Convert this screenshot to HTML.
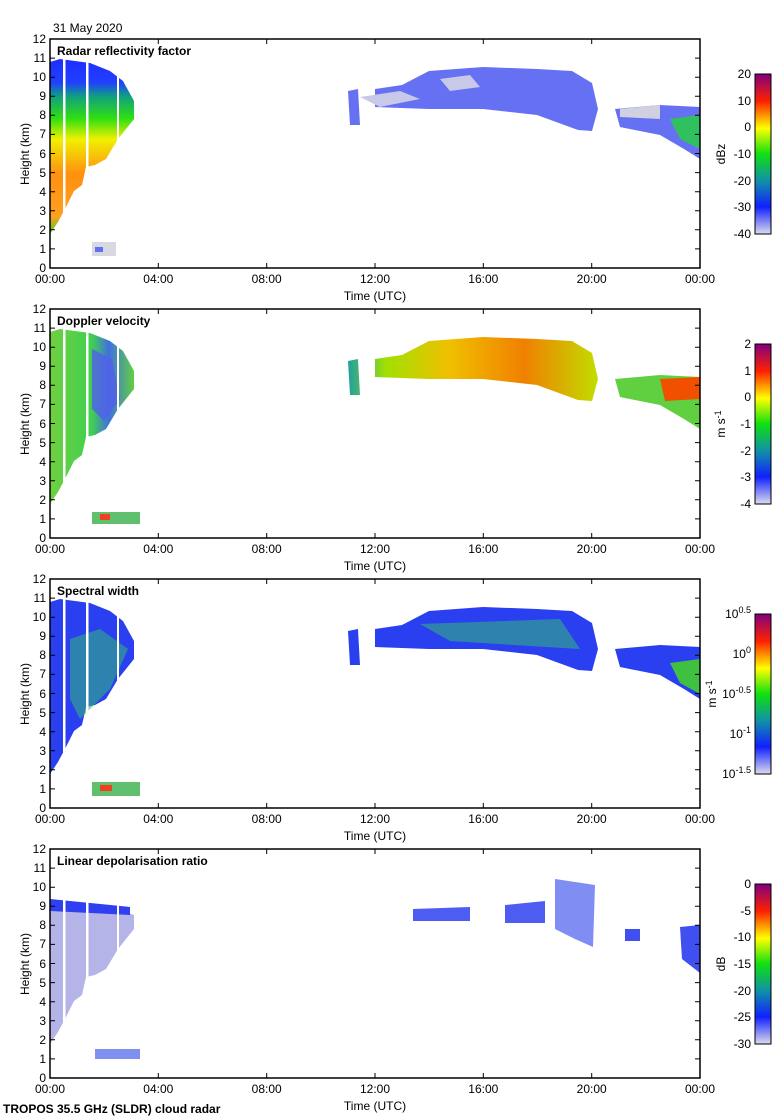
<!DOCTYPE html>
<html><head><meta charset="utf-8"><style>
body{margin:0;background:#fff}
svg{display:block;font-family:"Liberation Sans",sans-serif;font-size:12px}
</style></head><body>
<svg width="780" height="1120" viewBox="0 0 780 1120" xmlns="http://www.w3.org/2000/svg">
<defs>
<linearGradient id="cmap" x1="0" y1="1" x2="0" y2="0">
<stop offset="0" stop-color="#dcdcec"/><stop offset="0.17" stop-color="#1020ff"/>
<stop offset="0.33" stop-color="#1090a8"/><stop offset="0.5" stop-color="#10e010"/>
<stop offset="0.66" stop-color="#ffff00"/><stop offset="0.83" stop-color="#ff2000"/>
<stop offset="1" stop-color="#800080"/></linearGradient>
<linearGradient id="g1" gradientUnits="userSpaceOnUse" x1="0" y1="23" x2="0" y2="195">
<stop offset="0" stop-color="#2030ff"/><stop offset="0.12" stop-color="#2040ff"/>
<stop offset="0.2" stop-color="#10a080"/><stop offset="0.33" stop-color="#30e010"/>
<stop offset="0.45" stop-color="#f0f000"/><stop offset="0.65" stop-color="#ff9010"/>
<stop offset="0.9" stop-color="#ffa020"/><stop offset="1" stop-color="#40d020"/></linearGradient>
<linearGradient id="g2" gradientUnits="userSpaceOnUse" x1="50" y1="0" x2="134" y2="0">
<stop offset="0" stop-color="#70d040"/><stop offset="0.5" stop-color="#40d050"/>
<stop offset="0.7" stop-color="#4070e0"/><stop offset="1" stop-color="#60d040"/></linearGradient>
<linearGradient id="g2r" gradientUnits="userSpaceOnUse" x1="348" y1="0" x2="600" y2="0">
<stop offset="0" stop-color="#20a0a0"/><stop offset="0.15" stop-color="#a0e000"/>
<stop offset="0.4" stop-color="#f0c000"/><stop offset="0.7" stop-color="#f08000"/>
<stop offset="1" stop-color="#c0e000"/></linearGradient>
<g id="frame">
<rect x="50" y="0" width="650" height="229" fill="none" stroke="#000" stroke-width="1.5"/>
<g stroke="#000" stroke-width="1">
<path d="M50 209.9h5M50 190.8h5M50 171.75h5M50 152.7h5M50 133.6h5M50 114.5h5M50 95.4h5M50 76.3h5M50 57.25h5M50 38.2h5M50 19.1h5M695 209.9h5M695 190.8h5M695 171.75h5M695 152.7h5M695 133.6h5M695 114.5h5M695 95.4h5M695 76.3h5M695 57.25h5M695 38.2h5M695 19.1h5M158.3 229v-5M266.7 229v-5M375 229v-5M483.3 229v-5M591.7 229v-5M158.3 0v5M266.7 0v5M375 0v5M483.3 0v5M591.7 0v5"/>
</g>
<g text-anchor="end">
<text x="46" y="233">0</text><text x="46" y="214">1</text><text x="46" y="195">2</text><text x="46" y="176">3</text><text x="46" y="157">4</text><text x="46" y="138">5</text><text x="46" y="119">6</text><text x="46" y="99">7</text><text x="46" y="80">8</text><text x="46" y="61">9</text><text x="46" y="42">10</text><text x="46" y="23">11</text><text x="46" y="4">12</text>
</g>
<g text-anchor="middle">
<text x="50" y="244">00:00</text><text x="158.3" y="244">04:00</text><text x="266.7" y="244">08:00</text><text x="375" y="244">12:00</text><text x="483.3" y="244">16:00</text><text x="591.7" y="244">20:00</text><text x="700" y="244">00:00</text>
<text x="375" y="261">Time (UTC)</text>
<text transform="translate(29,115) rotate(-90)">Height (km)</text>
</g>
<rect x="755" y="35" width="16" height="160" fill="url(#cmap)" stroke="#000"/>
</g>
<path id="lc" d="M50 23L60 20L90 24L110 32L123 42L134 62L134 80L118 100L106 120L95 126L86 128L82 146L74 152L66 168L58 183L50 195Z"/>
<path id="rc" d="M348 52L358 50L360 86L350 86ZM375 50L402 46L429 32L483 28L537 30L572 32L592 44L598 70L592 92L578 91L537 76L483 70L429 70L375 68Z"/>
<path id="rr" d="M615 70L660 66L700 68L700 120L684 110L660 96L620 88Z"/>
<g id="gaps" fill="#fff"><rect x="63" y="15" width="2.5" height="180"/><rect x="86" y="15" width="2.5" height="120"/><rect x="117" y="15" width="2" height="90"/></g>
</defs>

<text x="53" y="32">31 May 2020</text>

<!-- Panel 1 -->
<g transform="translate(0,39)">
<use href="#lc" fill="url(#g1)"/>
<use href="#rc" fill="#4a58f0" opacity="0.85"/>
<path d="M360 58L400 52L420 60L380 68Z M440 40L470 36L480 48L450 52Z" fill="#c8c8e8"/>
<use href="#rr" fill="#4a58f0" opacity="0.85"/>
<path d="M670 80L700 76L700 110L680 100Z" fill="#30c060"/>
<path d="M620 70L660 66L660 80L620 78Z" fill="#d0d0e0"/>
<use href="#gaps"/>
<rect x="92" y="203" width="24" height="14" fill="#d8d8e0"/><rect x="95" y="208" width="8" height="5" fill="#6070f0"/>
<use href="#frame"/>
<text x="57" y="16" font-weight="bold">Radar reflectivity factor</text>
<g font-size="12" text-anchor="end"><text x="751" y="39">20</text><text x="751" y="66">10</text><text x="751" y="92">0</text><text x="751" y="119">-10</text><text x="751" y="146">-20</text><text x="751" y="172">-30</text><text x="751" y="199">-40</text></g>
<text transform="translate(725,115) rotate(-90)" text-anchor="middle">dBz</text>
</g>

<!-- Panel 2 -->
<g transform="translate(0,309)">
<use href="#lc" fill="url(#g2)"/>
<path d="M92 40L112 50L120 90L104 112L92 100Z" fill="#5060e8" opacity="0.8"/>
<use href="#rc" fill="url(#g2r)"/>
<use href="#rr" fill="#60d040"/>
<path d="M660 70L700 68L700 90L665 92Z" fill="#f05000"/>
<use href="#gaps"/>
<rect x="92" y="203" width="48" height="12" fill="#60c070"/><rect x="100" y="205" width="10" height="6" fill="#f04020"/>
<use href="#frame"/>
<text x="57" y="16" font-weight="bold">Doppler velocity</text>
<g text-anchor="end"><text x="751" y="39">2</text><text x="751" y="66">1</text><text x="751" y="92">0</text><text x="751" y="119">-1</text><text x="751" y="146">-2</text><text x="751" y="172">-3</text><text x="751" y="199">-4</text></g>
<text transform="translate(725,115) rotate(-90)" text-anchor="middle">m s<tspan dy="-4" font-size="9">-1</tspan></text>
</g>

<!-- Panel 3 -->
<g transform="translate(0,579)">
<use href="#lc" fill="#2a40f0"/>
<path d="M70 60L100 50L128 70L110 110L80 140L70 120Z" fill="#30b080" opacity="0.6"/>
<use href="#rc" fill="#2a40f0"/>
<path d="M420 45L560 40L580 70L450 62Z" fill="#30b080" opacity="0.6"/>
<use href="#rr" fill="#2a40f0"/>
<path d="M670 84L700 80L700 115L680 104Z" fill="#40c040"/>
<use href="#gaps"/>
<rect x="92" y="203" width="48" height="14" fill="#60c070"/><rect x="100" y="206" width="12" height="6" fill="#f04020"/>
<use href="#frame"/>
<text x="57" y="16" font-weight="bold">Spectral width</text>
<g text-anchor="end"><text x="751" y="39">10<tspan dy="-5" font-size="9">0.5</tspan></text><text x="751" y="79">10<tspan dy="-5" font-size="9">0</tspan></text><text x="751" y="119">10<tspan dy="-5" font-size="9">-0.5</tspan></text><text x="751" y="159">10<tspan dy="-5" font-size="9">-1</tspan></text><text x="751" y="199">10<tspan dy="-5" font-size="9">-1.5</tspan></text></g>
<text transform="translate(716,115) rotate(-90)" text-anchor="middle">m s<tspan dy="-4" font-size="9">-1</tspan></text>
</g>

<!-- Panel 4 -->
<g transform="translate(0,849)">
<path d="M50 52L90 55L110 60L123 62L134 66L134 80L118 100L106 120L95 126L86 128L82 146L74 152L66 168L58 183L50 195Z" fill="#b4b4e8"/>
<path d="M50 50L130 58L130 66L50 62Z" fill="#3040f0"/>
<path d="M413 60L470 58L470 72L413 72Z M505 56L545 52L545 74L505 74Z" fill="#3040f0" opacity="0.85"/>
<path d="M555 30L595 36L593 98L575 90L555 80Z" fill="#6070f0" opacity="0.8"/>
<path d="M625 80L640 80L640 92L625 92Z M680 78L700 76L700 124L682 110Z" fill="#4050f0"/>
<use href="#gaps"/>
<rect x="95" y="200" width="45" height="10" fill="#8090f0"/>
<use href="#frame"/>
<text x="57" y="16" font-weight="bold">Linear depolarisation ratio</text>
<g text-anchor="end"><text x="751" y="39">0</text><text x="751" y="66">-5</text><text x="751" y="92">-10</text><text x="751" y="119">-15</text><text x="751" y="146">-20</text><text x="751" y="172">-25</text><text x="751" y="199">-30</text></g>
<text transform="translate(725,115) rotate(-90)" text-anchor="middle">dB</text>
</g>

<text x="3" y="1113" font-weight="bold">TROPOS 35.5 GHz (SLDR) cloud radar</text>
</svg>
</body></html>
